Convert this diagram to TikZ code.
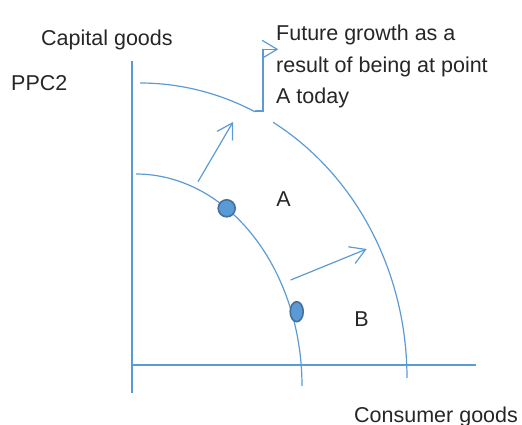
\documentclass[tikz,border=0pt]{standalone}
\usepackage{fontspec}
\setmainfont{Liberation Sans}
\usetikzlibrary{arrows.meta,shapes.geometric}
\definecolor{lineblue}{HTML}{5B9BD5}
\definecolor{dotedge}{HTML}{41719C}
\definecolor{txt}{HTML}{262626}
\tikzset{
  axisline/.style={draw=lineblue, line width=2pt},
  curveline/.style={draw=lineblue, line width=1.2pt},
  growarrow/.style={draw=lineblue, line width=1.2pt, -{Straight Barb[length=15pt,width=18pt,line width=1.2pt]}},
  lbl/.style={text=txt, font=\fontsize{21.5}{31.5}\selectfont, inner sep=0pt, align=left},
  dotA/.style={circle, fill=lineblue, draw=dotedge, line width=1.6pt, minimum size=17pt, inner sep=0pt},
  dotB/.style={ellipse, fill=lineblue, draw=dotedge, line width=1.6pt, minimum width=13pt, minimum height=20pt, inner sep=0pt},
}
\begin{document}
\begin{tikzpicture}[x=1pt,y=-1pt]
\useasboundingbox (0,0) rectangle (522,425);
% axes
\coordinate (ytop) at (131.5,61);
\coordinate (ybot) at (131.5,392.5);
\coordinate (xl) at (131.5,365);
\coordinate (xr) at (476,365);
\draw[axisline] (ytop) -- (ybot);
\draw[axisline] (xl) -- (xr);
% inner curve
\draw[curveline] plot[domain=90:0, samples=80, smooth] ({136+166*cos(\x)},{386-212*sin(\x)});
% outer curve (PPC2), with gap
\draw[curveline] plot[domain=90:64.5, samples=40, smooth] ({140+267*cos(\x)},{378-295*sin(\x)});
\draw[curveline] plot[domain=60.1:0, samples=80, smooth] ({140+267*cos(\x)},{378-295*sin(\x)});
% dots
\node[dotA] (pa) at (226.7,208.3) {};
\node[dotB] (pb) at (296.7,311.7) {};
% growth arrows
\coordinate (a1s) at (198,181.7);
\coordinate (a1e) at (233,122);
\coordinate (a2s) at (290.7,280);
\coordinate (a2e) at (366.7,249);
\draw[growarrow] (a1s) -- (a1e);
\draw[growarrow] (a2s) -- (a2e);
% labels
\node[lbl, anchor=base west] (cap) at (41,46) {Capital goods};
\node[lbl, anchor=base west] (ppc) at (11,91) {PPC2};
\node[lbl, anchor=north west] (fut) at (276,25) {Future growth as a\\result of being at point\\A today};
\node[lbl] (la) at (283.5,199.5) {A};
\node[lbl] (lb) at (361.5,319.5) {B};
\node[lbl, anchor=base west] (cons) at (354,422) {Consumer goods};
% callout connector
\coordinate (c0) at (255,111);
\coordinate (c1) at (263,111);
\coordinate (c2) at (263,49.3);
\coordinate (c3) at (278.3,49.3);
\draw[growarrow] (c0) -- (c1) -- (c2) -- (c3);
\end{tikzpicture}
\end{document}
